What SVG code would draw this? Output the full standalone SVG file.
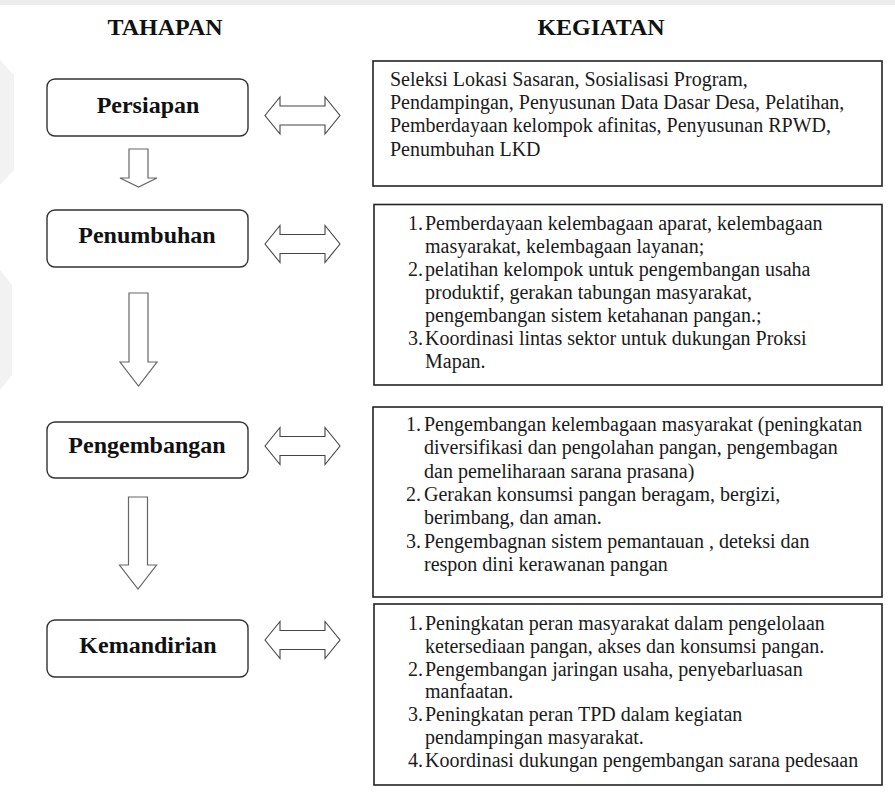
<svg xmlns="http://www.w3.org/2000/svg" width="895" height="802" viewBox="0 0 895 802">
<style>
  .title{font-family:"Liberation Serif","Times New Roman",serif;font-weight:bold;font-size:24px;fill:#111;text-anchor:middle}
  .stage{fill:#fff;stroke:#333;stroke-width:1.4}
  .stageText{font-family:"Liberation Serif","Times New Roman",serif;font-weight:bold;font-size:24px;fill:#111;text-anchor:middle}
  .box{fill:#fff;stroke:#222;stroke-width:1.6}
  .body{font-family:"Liberation Serif","Times New Roman",serif;font-size:20px;fill:#1a1a1a}
  .darrow{fill:#fff;stroke:#444;stroke-width:1.1;stroke-linejoin:miter}
  .varrow{fill:#fff;stroke:#666;stroke-width:1.2;stroke-linejoin:miter}
  .wm{fill:#ececec}
</style>
<rect x="0" y="0" width="895" height="802" fill="#fff"/>
<g id="watermark">
  <rect class="wm" x="0" y="0" width="895" height="5"/>
  <polygon class="wm" points="0,60 14,75 14,170 0,185" opacity="0.7"/>
  <polygon class="wm" points="0,270 12,285 12,375 0,390" opacity="0.7"/>
</g>
<g id="headers">
  <text class="title" x="165" y="35">TAHAPAN</text>
  <text class="title" x="601" y="35">KEGIATAN</text>
</g>
<g id="connectors">
  <path class="darrow" d="M265,115.5 L280,97 L280,106 L325,106 L325,97 L340,115.5 L325,134 L325,125 L280,125 L280,134 Z"/>
  <path class="darrow" d="M265,244 L280,225.5 L280,234.5 L325,234.5 L325,225.5 L340,244 L325,262.5 L325,253.5 L280,253.5 L280,262.5 Z"/>
  <path class="darrow" d="M265,446 L280,427.5 L280,436.5 L325,436.5 L325,427.5 L340,446 L325,464.5 L325,455.5 L280,455.5 L280,464.5 Z"/>
  <path class="darrow" d="M265,640 L280,621.5 L280,630.5 L325,630.5 L325,621.5 L340,640 L325,658.5 L325,649.5 L280,649.5 L280,658.5 Z"/>
  <path class="varrow" d="M129,149 L148,149 L148,178 L157,178 L138.5,187 L120,178 L129,178 Z"/>
  <path class="varrow" d="M129,293 L148,293 L148,362 L157,362 L138.5,386 L120,362 L129,362 Z"/>
  <path class="varrow" d="M128.5,497 L147.5,497 L147.5,565 L156.5,565 L138,589 L119.5,565 L128.5,565 Z"/>
</g>
<g id="persiapan">
  <rect class="stage" x="47" y="79" width="201" height="57" rx="8"/>
  <text class="stageText" x="148" y="113">Persiapan</text>
</g>
<g id="penumbuhan">
  <rect class="stage" x="47" y="210" width="201" height="57" rx="8"/>
  <text class="stageText" x="147" y="243">Penumbuhan</text>
</g>
<g id="pengembangan">
  <rect class="stage" x="47" y="422" width="201" height="56" rx="8"/>
  <text class="stageText" x="147" y="453">Pengembangan</text>
</g>
<g id="kemandirian">
  <rect class="stage" x="47" y="620" width="201" height="57" rx="8"/>
  <text class="stageText" x="148" y="653">Kemandirian</text>
</g>
<g id="kegiatan-persiapan">
  <rect class="box" x="373" y="61" width="509" height="125"/>
  <text class="body" x="390" y="86">Seleksi Lokasi Sasaran, Sosialisasi Program,</text>
  <text class="body" x="390" y="109.2">Pendampingan, Penyusunan Data Dasar Desa, Pelatihan,</text>
  <text class="body" x="390" y="132.4">Pemberdayaan kelompok afinitas, Penyusunan RPWD,</text>
  <text class="body" x="390" y="155.6">Penumbuhan LKD</text>
</g>
<g id="kegiatan-penumbuhan">
  <rect class="box" x="374" y="204.5" width="508" height="180.5"/>
  <text class="body" x="408" y="230">1.</text>
  <text class="body" x="425" y="230">Pemberdayaan kelembagaan aparat, kelembagaan</text>
  <text class="body" x="425" y="253">masyarakat, kelembagaan layanan;</text>
  <text class="body" x="408" y="276">2.</text>
  <text class="body" x="425" y="276">pelatihan kelompok untuk pengembangan usaha</text>
  <text class="body" x="425" y="299">produktif, gerakan tabungan masyarakat,</text>
  <text class="body" x="425" y="322">pengembangan sistem ketahanan pangan.;</text>
  <text class="body" x="408" y="345">3.</text>
  <text class="body" x="425" y="345">Koordinasi lintas sektor untuk dukungan Proksi</text>
  <text class="body" x="425" y="368">Mapan.</text>
</g>
<g id="kegiatan-pengembangan">
  <rect class="box" x="373" y="407" width="509" height="190"/>
  <text class="body" x="406" y="431">1.</text>
  <text class="body" x="424" y="431">Pengembangan kelembagaan masyarakat (peningkatan</text>
  <text class="body" x="424" y="454.3">diversifikasi dan pengolahan pangan, pengembagan</text>
  <text class="body" x="424" y="477.6">dan pemeliharaan sarana prasana)</text>
  <text class="body" x="406" y="500.9">2.</text>
  <text class="body" x="424" y="500.9">Gerakan konsumsi pangan beragam, bergizi,</text>
  <text class="body" x="424" y="524.2">berimbang, dan aman.</text>
  <text class="body" x="406" y="547.5">3.</text>
  <text class="body" x="424" y="547.5">Pengembagnan sistem pemantauan , deteksi dan</text>
  <text class="body" x="424" y="570.8">respon dini kerawanan pangan</text>
</g>
<g id="kegiatan-kemandirian">
  <rect class="box" x="374" y="604" width="508" height="181"/>
  <text class="body" x="408" y="630">1.</text>
  <text class="body" x="425" y="630">Peningkatan peran masyarakat dalam pengelolaan</text>
  <text class="body" x="425" y="652.8">ketersediaan pangan, akses dan konsumsi pangan.</text>
  <text class="body" x="408" y="675.6">2.</text>
  <text class="body" x="425" y="675.6">Pengembangan jaringan usaha, penyebarluasan</text>
  <text class="body" x="425" y="698.4">manfaatan.</text>
  <text class="body" x="408" y="721.2">3.</text>
  <text class="body" x="425" y="721.2">Peningkatan peran TPD dalam kegiatan</text>
  <text class="body" x="425" y="744">pendampingan masyarakat.</text>
  <text class="body" x="408" y="766.8">4.</text>
  <text class="body" x="425" y="766.8">Koordinasi dukungan pengembangan sarana pedesaan</text>
</g>
</svg>
